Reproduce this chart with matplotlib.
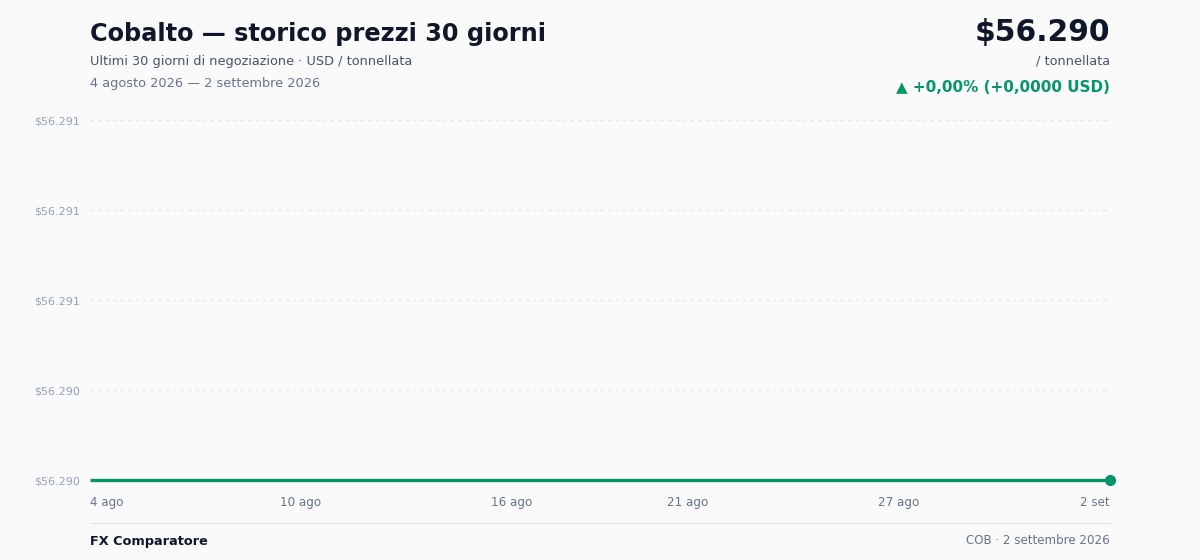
import matplotlib
matplotlib.use("Agg")
import matplotlib.pyplot as plt
from matplotlib.lines import Line2D
import pandas as pd

plt.rcParams["font.family"] = ["DejaVu Sans"]

# dati: 30 giorni, prezzo invariato
dates = pd.date_range("2026-08-04", "2026-09-02", freq="D")
prices = [56290, 56290, 56290, 56290, 56290, 56290, 56290, 56290, 56290, 56290,
          56290, 56290, 56290, 56290, 56290, 56290, 56290, 56290, 56290, 56290,
          56290, 56290, 56290, 56290, 56290, 56290, 56290, 56290, 56290, 56290]
y_ticks = [56290, 56290.25, 56290.5, 56290.75, 56291]
x_tick_dates = ["2026-08-04", "2026-08-10", "2026-08-16", "2026-08-21", "2026-08-27", "2026-09-02"]
x_tick_labels = ["4 ago", "10 ago", "16 ago", "21 ago", "27 ago", "2 set"]

BG = "#fafafa"
GREEN = "#059669"
DARK = "#0f172a"
MUTED = "#475569"
LIGHT = "#94a3b8"
TICK = "#64748b"


def fmt_price(v):
    s = "{:,}".format(int(v + 0.5))
    return "$" + s.replace(",", ".")


fig = plt.figure(figsize=(12, 5.6), dpi=100, facecolor=BG)
ax = fig.add_axes([0.075, 1 - 480 / 560, 0.85, 360 / 560])
ax.set_facecolor(BG)

ax.plot(dates, prices, color=GREEN, lw=2.4, solid_capstyle="butt", zorder=3, clip_on=False)
ax.plot(dates[-1:], prices[-1:], "o", color=GREEN, ms=7, zorder=4, clip_on=False)

ax.set_xlim(dates[0], dates[-1])
ax.set_ylim(y_ticks[0], y_ticks[-1])
ax.set_yticks(y_ticks)
ax.set_yticklabels([fmt_price(v) for v in y_ticks])
ax.grid(axis="y", color="#e5e7eb", ls=(0, (3, 3)), lw=0.9)
ax.tick_params(axis="y", length=0, pad=7, labelsize=8, labelcolor=LIGHT)

ax.set_xticks(pd.to_datetime(x_tick_dates))
ax.set_xticklabels(x_tick_labels)
ax.tick_params(axis="x", length=0, pad=11.5, labelsize=8.6, labelcolor=TICK)
xl = ax.get_xticklabels()
xl[0].set_ha("left")
xl[-1].set_ha("right")

for s in ax.spines.values():
    s.set_visible(False)

# intestazione
fig.text(90 / 1200, 1 - 34 / 560, "Cobalto — storico prezzi 30 giorni", fontsize=17.3,
         fontweight="bold", color=DARK, va="center", ha="left")
fig.text(90 / 1200, 1 - 61 / 560, "Ultimi 30 giorni di negoziazione · USD / tonnellata",
         fontsize=9.25, color=MUTED, va="center", ha="left")
fig.text(90 / 1200, 1 - 83 / 560, "4 agosto 2026 — 2 settembre 2026",
         fontsize=9.25, color=TICK, va="center", ha="left")

fig.text(1110 / 1200, 1 - 32 / 560, fmt_price(prices[-1]), fontsize=21.4,
         fontweight="bold", color=DARK, va="center", ha="right")
fig.text(1110 / 1200, 1 - 61 / 560, "/ tonnellata", fontsize=9.25, color=MUTED,
         va="center", ha="right")
fig.text(1110 / 1200, 1 - 87 / 560, "▲ +0,00% (+0,0000 USD)", fontsize=10.9,
         fontweight="bold", color=GREEN, va="center", ha="right")

# piè di pagina
fig.add_artist(Line2D([90 / 1200, 1110 / 1200], [1 - 523 / 560] * 2,
                      transform=fig.transFigure, color="#e5e7eb", lw=1))
fig.text(90 / 1200, 1 - 541 / 560, "FX Comparatore", fontsize=9.3, fontweight="bold",
         color=DARK, va="center", ha="left")
fig.text(1110 / 1200, 1 - 541 / 560, "COB · 2 settembre 2026", fontsize=8.6,
         color=TICK, va="center", ha="right")

fig.savefig("out.png", dpi=100, facecolor=BG)
